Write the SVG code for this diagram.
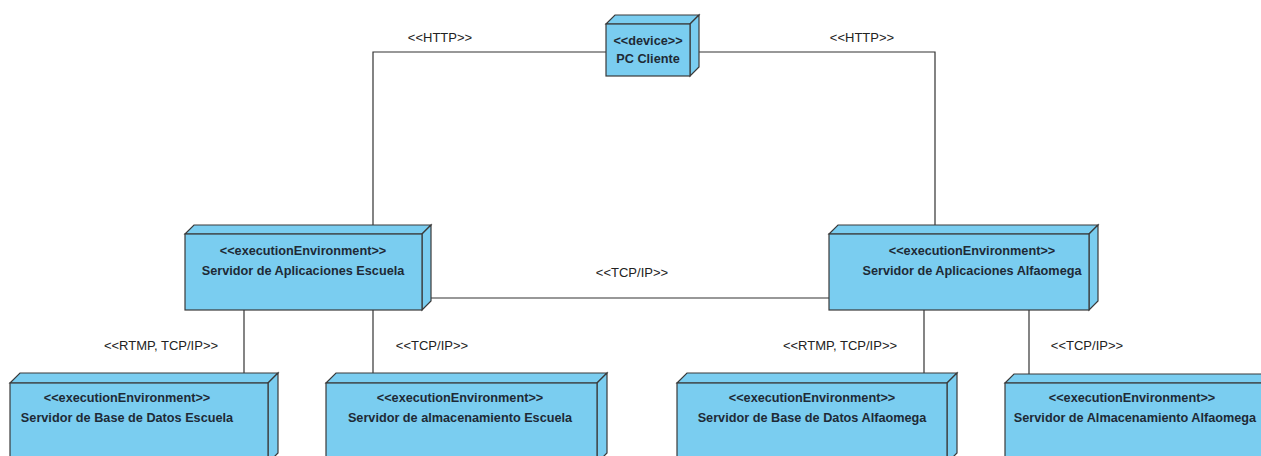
<svg xmlns="http://www.w3.org/2000/svg" width="1261" height="456" viewBox="0 0 1261 456">
<style>
.f{fill:#7ACDF0;stroke:#3a3a3a;stroke-width:1.2}
.t{font-family:"Liberation Sans",Arial,sans-serif;font-size:12.7px;font-weight:bold;fill:#1e2a36;text-anchor:middle}
.l{font-family:"Liberation Sans",Arial,sans-serif;font-size:13px;fill:#222;text-anchor:middle}
.c{fill:none;stroke:#333;stroke-width:1.2}
</style>
<rect width="1261" height="456" fill="#fff"/>
<g id="connectors">
<polyline class="c" points="606,52 373,52 373,225"/>
<polyline class="c" points="699,52 935,52 935,225"/>
<line class="c" x1="431" y1="298" x2="829" y2="298"/>
<line class="c" x1="244" y1="310" x2="244" y2="373"/>
<line class="c" x1="373" y1="310" x2="373" y2="374"/>
<line class="c" x1="924" y1="310" x2="924" y2="373"/>
<line class="c" x1="1029" y1="310" x2="1029" y2="374"/>
<text class="l" x="440" y="42">&lt;&lt;HTTP&gt;&gt;</text>
<text class="l" x="862" y="42">&lt;&lt;HTTP&gt;&gt;</text>
<text class="l" x="632" y="277">&lt;&lt;TCP/IP&gt;&gt;</text>
<text class="l" x="161" y="350">&lt;&lt;RTMP, TCP/IP&gt;&gt;</text>
<text class="l" x="432" y="350">&lt;&lt;TCP/IP&gt;&gt;</text>
<text class="l" x="840" y="350">&lt;&lt;RTMP, TCP/IP&gt;&gt;</text>
<text class="l" x="1087" y="350">&lt;&lt;TCP/IP&gt;&gt;</text>
</g>
<g id="pc-cliente">
<polygon class="f" points="606,24 615,15 699,15 690,24"/>
<polygon class="f" points="690,24 699,15 699,67 690,76"/>
<rect class="f" x="606" y="24" width="84" height="52"/>
<text class="t" x="648" y="45">&lt;&lt;device&gt;&gt;</text>
<text class="t" x="648" y="63">PC Cliente</text>
</g>
<g id="app-escuela">
<polygon class="f" points="185,234 194,225 431,225 422,234"/>
<polygon class="f" points="422,234 431,225 431,301 422,310"/>
<rect class="f" x="185" y="234" width="237" height="76"/>
<text class="t" x="303" y="255">&lt;&lt;executionEnvironment&gt;&gt;</text>
<text class="t" x="303" y="275">Servidor de Aplicaciones Escuela</text>
</g>
<g id="app-alfaomega">
<polygon class="f" points="829,234 838,225 1098,225 1089,234"/>
<polygon class="f" points="1089,234 1098,225 1098,301 1089,310"/>
<rect class="f" x="829" y="234" width="260" height="76"/>
<text class="t" x="972" y="255">&lt;&lt;executionEnvironment&gt;&gt;</text>
<text class="t" x="972" y="275">Servidor de Aplicaciones Alfaomega</text>
</g>
<g id="bd-escuela">
<polygon class="f" points="10,383 20,373 278,373 268,383"/>
<polygon class="f" points="268,383 278,373 278,453 268,463"/>
<rect class="f" x="10" y="383" width="258" height="80"/>
<text class="t" x="127" y="402">&lt;&lt;executionEnvironment&gt;&gt;</text>
<text class="t" x="127" y="422">Servidor de Base de Datos Escuela</text>
</g>
<g id="alm-escuela">
<polygon class="f" points="326,383 336,373 607,373 597,383"/>
<polygon class="f" points="597,383 607,373 607,453 597,463"/>
<rect class="f" x="326" y="383" width="271" height="80"/>
<text class="t" x="460" y="402">&lt;&lt;executionEnvironment&gt;&gt;</text>
<text class="t" x="460" y="422">Servidor de almacenamiento Escuela</text>
</g>
<g id="bd-alfaomega">
<polygon class="f" points="677,383 687,373 957,373 947,383"/>
<polygon class="f" points="947,383 957,373 957,453 947,463"/>
<rect class="f" x="677" y="383" width="270" height="80"/>
<text class="t" x="812" y="402">&lt;&lt;executionEnvironment&gt;&gt;</text>
<text class="t" x="812" y="422">Servidor de Base de Datos Alfaomega</text>
</g>
<g id="alm-alfaomega">
<polygon class="f" points="1005,383 1014,374 1285,374 1276,383"/>
<rect class="f" x="1005" y="383" width="271" height="80"/>
<text class="t" x="1132" y="402">&lt;&lt;executionEnvironment&gt;&gt;</text>
<text class="t" x="1135" y="422">Servidor de Almacenamiento Alfaomega</text>
</g>
</svg>
